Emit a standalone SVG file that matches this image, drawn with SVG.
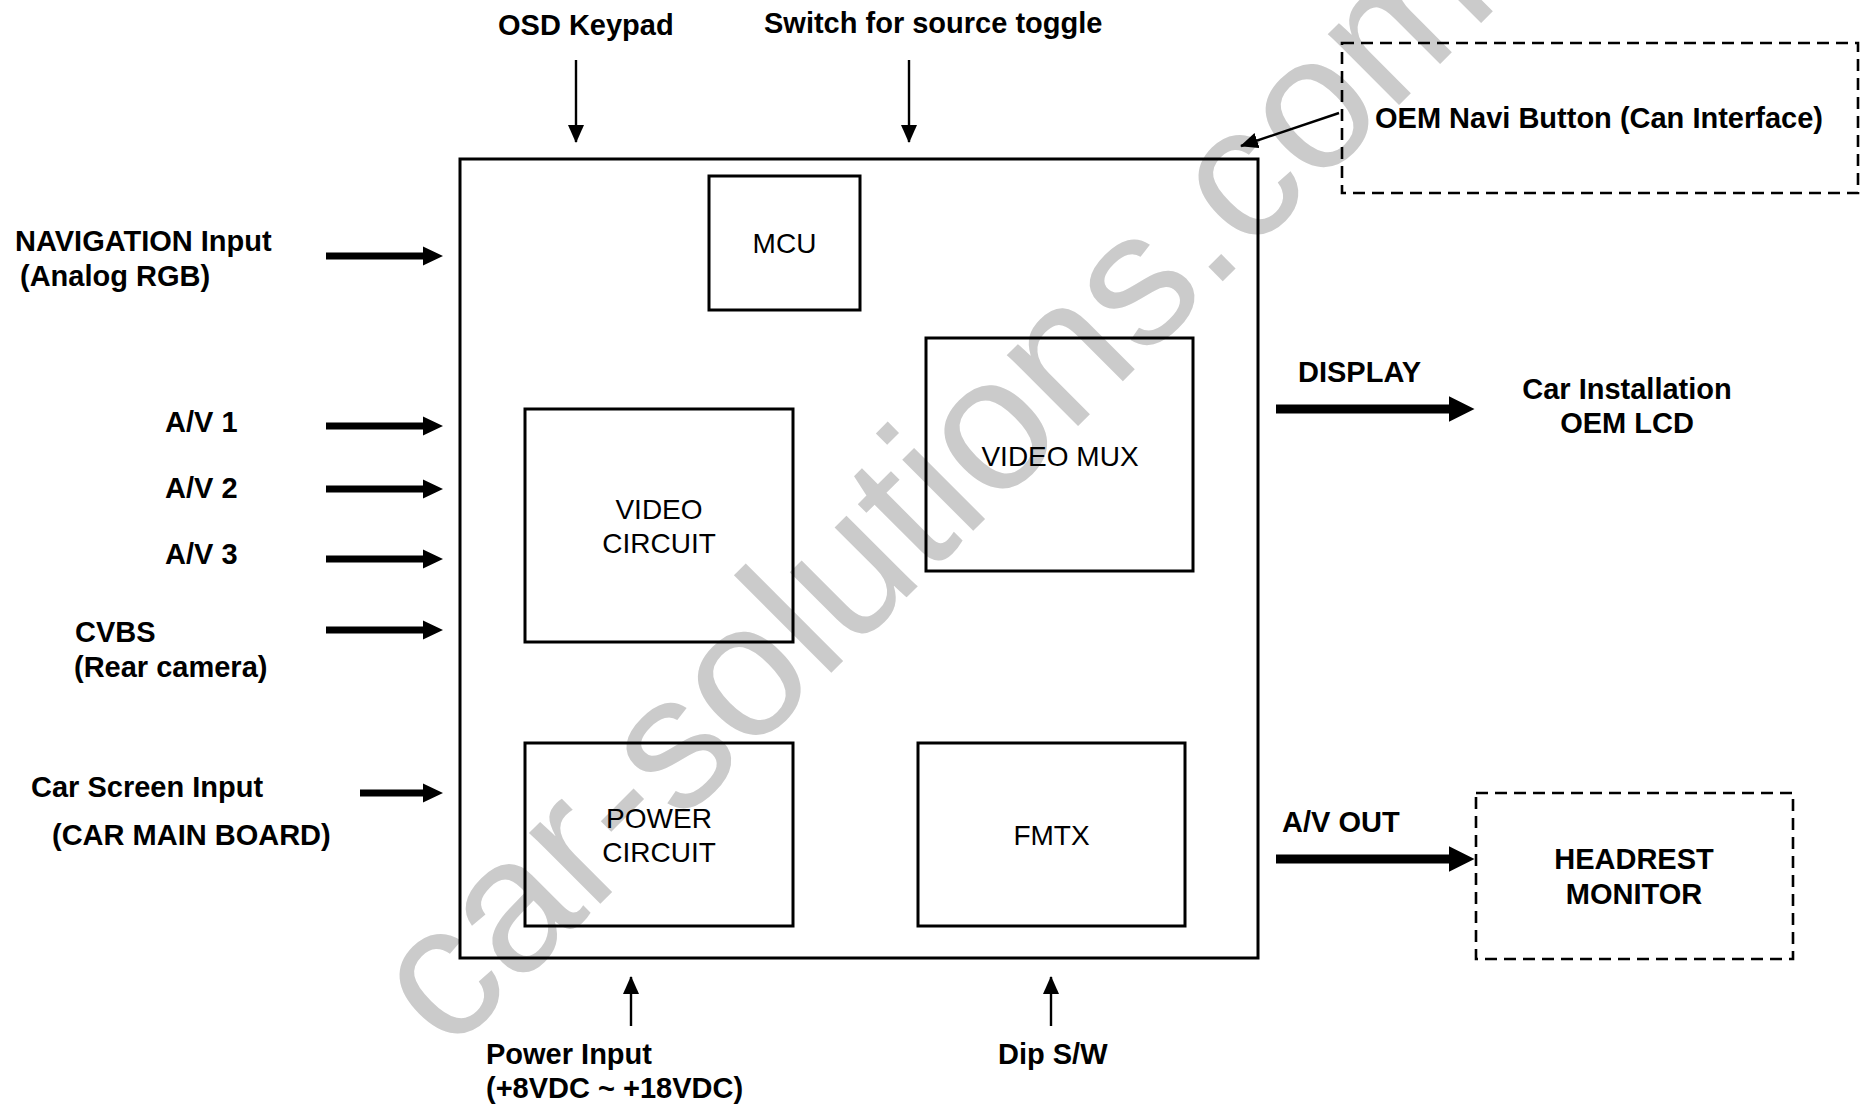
<svg xmlns="http://www.w3.org/2000/svg" width="1860" height="1106" viewBox="0 0 1860 1106">
<style>
text{font-family:"Liberation Sans",Arial,sans-serif;fill:#000}
.b{font-size:29px;font-weight:bold}
.r{font-size:28px}
.m{text-anchor:middle}
.box{fill:none;stroke:#000;stroke-width:3}
.dash{fill:none;stroke:#000;stroke-width:2.6;stroke-dasharray:12 7}
.thin{stroke:#000;stroke-width:2.4;fill:none;marker-end:url(#ah)}
.fat{fill:#000}
.wm{font-size:190px;fill:#cbcbcb}
</style>
<defs>
<marker id="ah" viewBox="0 0 18 16" refX="17" refY="8" markerWidth="18" markerHeight="16" markerUnits="userSpaceOnUse" orient="auto">
<path d="M0,0 L18,8 L0,16 Z" fill="#000"/>
</marker>
<path id="inArrow" d="M-117,-3.5 H-20 V-9.5 L0,0 L-20,9.5 V3.5 H-117 Z"/>
<path id="outArrow" d="M0,-4.6 H173 V-12.7 L198.5,0 L173,12.7 V4.6 H0 Z"/>
</defs>
<rect width="1860" height="1106" fill="#fff"/>
<text class="wm" transform="translate(449,1055) rotate(-45)">car-solutions.com</text>

<g id="main-unit"><rect class="box" x="460" y="159" width="798" height="799"/></g>
<g id="mcu"><rect class="box" x="709" y="176" width="151" height="134"/><text class="r m" x="784.5" y="253">MCU</text></g>
<g id="video-circuit"><rect class="box" x="525" y="409" width="268" height="233"/><text class="r m" x="659" y="519">VIDEO</text><text class="r m" x="659" y="553">CIRCUIT</text></g>
<g id="video-mux"><rect class="box" x="926" y="338" width="267" height="233"/><text class="r m" x="1060" y="466">VIDEO MUX</text></g>
<g id="power-circuit"><rect class="box" x="525" y="743" width="268" height="183"/><text class="r m" x="659" y="828">POWER</text><text class="r m" x="659" y="862">CIRCUIT</text></g>
<g id="fmtx"><rect class="box" x="918" y="743" width="267" height="183"/><text class="r m" x="1051.5" y="845">FMTX</text></g>
<g id="oem-navi"><rect class="dash" x="1342" y="43" width="516" height="150"/><text class="b" x="1375" y="128">OEM Navi Button (Can Interface)</text></g>
<g id="headrest"><rect class="dash" x="1476" y="793" width="317" height="166"/><text class="b m" x="1634" y="869">HEADREST</text><text class="b m" x="1634" y="904">MONITOR</text></g>

<g id="labels">
<text class="b" x="498" y="35">OSD Keypad</text>
<text class="b" x="764" y="33">Switch for source toggle</text>
<text class="b" x="15" y="251">NAVIGATION Input</text>
<text class="b" x="20" y="286">(Analog RGB)</text>
<text class="b" x="165" y="432">A/V 1</text>
<text class="b" x="165" y="498">A/V 2</text>
<text class="b" x="165" y="564">A/V 3</text>
<text class="b" x="75" y="642">CVBS</text>
<text class="b" x="74" y="677">(Rear camera)</text>
<text class="b" x="31" y="797">Car Screen Input</text>
<text class="b" x="52" y="845">(CAR MAIN BOARD)</text>
<text class="b" x="486" y="1064">Power Input</text>
<text class="b" x="486" y="1098">(+8VDC ~ +18VDC)</text>
<text class="b" x="998" y="1064">Dip S/W</text>
<text class="b" x="1298" y="382">DISPLAY</text>
<text class="b m" x="1627" y="399">Car Installation</text>
<text class="b m" x="1627" y="433">OEM LCD</text>
<text class="b" x="1282" y="832">A/V OUT</text>
</g>

<g id="connectors">
<line class="thin" x1="576" y1="60" x2="576" y2="142"/>
<line class="thin" x1="909" y1="60" x2="909" y2="142"/>
<line class="thin" x1="1339" y1="113" x2="1241" y2="146"/>
<line class="thin" x1="631" y1="1026" x2="631" y2="977"/>
<line class="thin" x1="1051" y1="1026" x2="1051" y2="977"/>
<use href="#inArrow" class="fat" transform="translate(443,256)"/>
<use href="#inArrow" class="fat" transform="translate(443,426)"/>
<use href="#inArrow" class="fat" transform="translate(443,489)"/>
<use href="#inArrow" class="fat" transform="translate(443,559)"/>
<use href="#inArrow" class="fat" transform="translate(443,630)"/>
<path class="fat" d="M360,789.5 H423 V783.5 L443,793 L423,802.5 V796.5 H360 Z"/>
<use href="#outArrow" class="fat" transform="translate(1276,409)"/>
<use href="#outArrow" class="fat" transform="translate(1276,859)"/>
</g>
</svg>
